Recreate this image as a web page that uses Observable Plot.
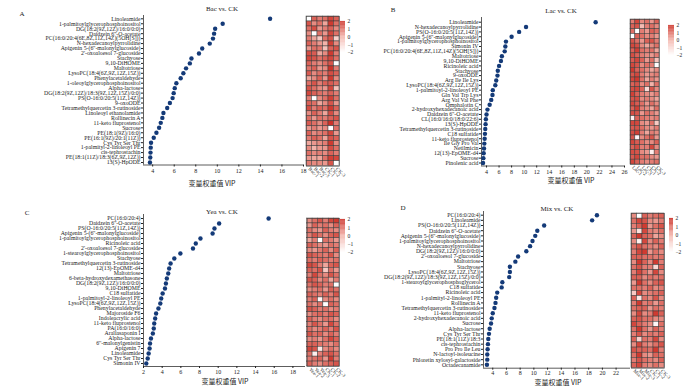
<!DOCTYPE html>
<html><head><meta charset="utf-8">
<script src="https://cdn.jsdelivr.net/npm/d3@7"></script>
<script src="https://cdn.jsdelivr.net/npm/@observablehq/plot@0.6"></script>
<style>
body{margin:0;background:#fff;}
#wrap{position:relative;width:700px;height:386px;overflow:hidden;background:#fff;font-family:"Liberation Serif",serif;}
.pl{position:absolute;}
.t{position:absolute;white-space:nowrap;line-height:1;transform:translate(-50%,-50%);color:#222;}
</style></head><body><div id="wrap"></div>
<script>
// ---------- data ----------
const namesA = ["Linoleamide","1-palmitoylglycerophosphoinositol","DG(18:2(9Z,12Z)/16:0/0:0)","Daidzein 6''-O-acetate","PC(16:0/20:4(6E,8Z,11Z,14Z)(5OH[S]))","N-hexadecanoylpyrrolidine","Apigenin 5-(6''-malonylglucoside)","2'-oxoaloesol 7-glucoside","Stachyose","9,10-DiHOME","Maltotriose","LysoPC(18:4(6Z,9Z,12Z,15Z))","Phenylacetaldehyde","1-oleoylglycerophosphoinositol","Alpha-lactose","DG(18:2(9Z,12Z)/18:3(9Z,12Z,15Z)/0:0)","PS(O-16:0/20:5(11Z,14Z))","9-oxoODE","Tetramethylquercetin 3-rutinoside","Linoleoyl ethanolamide","Rollinecin A","11-keto fluprostenol","Sucrose","PE(18:1(9Z)/16:0)","PE(16:1(9Z)/20:1(11Z))","Cys Tyr Ser Thr","1-palmityl-2-linoleoyl PE","cis-tephrostachin","PE(18:1(11Z)/18:3(6Z,9Z,12Z))","13(S)-HpODE"];
const vipA = [14.9,10.5,9.8,9.7,9.6,9.3,8.6,8.3,7.6,7.45,7.1,6.85,6.6,6.2,6.05,5.95,5.85,5.6,5.35,5.0,4.9,4.75,4.6,4.35,4.1,3.85,3.82,3.8,3.78,3.75];
const namesB = ["Linoleamide","N-hexadecanoylpyrrolidine","PS(O-16:0/20:5(11Z,14Z))","Apigenin 5-(6''-malonylglucoside)","1-palmitoylglycerophosphoinositol","Simonin IV","PC(16:0/20:4(6E,8Z,11Z,14Z)(5OH[S]))","Maltotriose","9,10-DiHOME","Ricinoleic acid","Stachyose","9-oxoODE","Arg Ile Ile Lys","LysoPC(18:4(6Z,9Z,12Z,15Z))","1-palmitoyl-2-linoleoyl PE","Gln Val Trp Lys","Arg Val Val Phe","Omphalotin C","2-hydroxyhexadecanoic acid","Daidzein 6''-O-acetate","CL(16:0/16:0/18:0/22:6)","13(S)-HpODE","Tetramethylquercetin 3-rutinoside","C18 sulfatide","11-keto fluprostenol","Ile Gly Pro Val","Netilmicin","12(13)-EpOME-d4","Sucrose","Pinolenic acid"];
const vipB = [21.4,10.3,9.2,8.0,7.1,7.0,6.9,6.45,6.3,6.0,5.8,5.75,5.55,5.4,5.0,4.95,4.75,4.5,4.15,4.0,3.9,3.85,3.8,3.75,3.7,3.65,3.6,3.55,3.5,3.45];
const namesC = ["PC(16:0/20:4)","Daidzein 6''-O-acetate","PS(O-16:0/20:5(11Z,14Z))","Apigenin 5-(6''-malonylglucoside)","1-palmitoylglycerophosphoinositol","Ricinoleic acid","2'-oxoaloesol 7-glucoside","1-stearoylglycerophosphoinositol","Stachyose","Tetramethylquercetin 3-rutinoside","12(13)-EpOME-d4","Maltotriose","6-beta-hydroxydexamethasone","DG(18:2(9Z,12Z)/16:0/0:0)","9,10-DiHOME","C18 sulfatide","1-palmitoyl-2-linoleoyl PE","LysoPC(18:4(6Z,9Z,12Z,15Z))","Phenylacetaldehyde","Majoroside F6","Indoleacrylic acid","11-keto fluprostenol","PA(16:0/16:0)","Araliasaponin I","Alpha-lactose","6''-malonylgenistin","Apigenin 7","Linoleamide","Cys Tyr Ser Thr","Simonin IV"];
const vipC = [15.4,10.1,9.6,9.4,8.1,7.6,7.3,5.95,5.3,4.9,4.75,4.65,4.5,4.4,4.3,4.05,3.9,3.8,3.6,3.35,3.25,3.15,3.1,3.0,2.8,2.7,2.65,2.55,2.45,2.3];
const namesD = ["PC(16:0/20:4)","Linoleamide","PS(O-16:0/20:5(11Z,14Z))","Daidzein 6''-O-acetate","Apigenin 5-(6''-malonylglucoside)","1-palmitoylglycerophosphoinositol","N-hexadecanoylpyrrolidine","DG(18:2(9Z,12Z)/16:0/0:0)","2'-oxoaloesol 7-glucoside","Maltotriose","Stachyose","LysoPC(18:4(6Z,9Z,12Z,15Z))","DG(18:2(9Z,12Z)/18:3(9Z,12Z,15Z)/0:0)","1-stearoylglycerophosphoglycerol","C18 sulfatide","Ricinoleic acid","1-palmityl-2-linoleoyl PE","Rollinecin A","Tetramethylquercetin 3-rutinoside","11-keto fluprostenol","2-hydroxyhexadecanoic acid","Sucrose","Alpha-lactose","Cys Tyr Ser Thr","PE(18:1(11Z)/18:3","cis-tephrostachin","Pro Pro Ile Leu","N-lactoyl-isoleucine","Phloretin xylosyl-galactoside","Octadecanamide"];
const vipD = [19.2,18.5,11.5,10.5,10.2,9.8,9.45,8.9,7.7,7.3,6.5,6.5,6.4,5.4,5.3,4.65,4.5,4.4,4.25,4.0,3.85,3.75,3.55,3.45,3.35,3.3,3.25,3.2,3.2,3.15];

const colsA = ["Bac-1","Bac-2","Bac-3","CK-1","CK-2","CK-3"];
const colsB = ["Lac-1","Lac-2","Lac-3","CK-1","CK-2","CK-3"];
const colsC = ["Yea-1","Yea-2","Yea-3","CK-1","CK-2","CK-3"];
const colsD = ["Mix-1","Mix-2","Mix-3","CK-1","CK-2","CK-3"];

const heatA = [[-2,1.2,0.8,1.0,1.6,1.2],[1.4,0.6,1.0,0.2,1.8,1.0],[1.0,1.5,0.4,0.8,1.2,0.6],[0.6,-2,1.0,0.4,1.6,1.0],[0.8,0.2,-0.6,1.0,1.4,-0.8],[1.2,0.8,0.4,0.0,1.7,0.6],[0.4,1.0,0.9,-0.4,1.2,1.4],[1.5,1.3,0.2,0.6,1.8,0.8],[1.6,1.4,1.0,1.2,1.6,1.0],[1.2,0.8,0.6,1.0,1.4,-2],[0.9,1.2,0.4,0.6,1.9,0.8],[1.3,0.6,1.0,0.8,1.5,1.2],[0.2,0.6,1.2,0.4,1.8,0.6],[1.0,1.4,0.8,1.2,1.3,1.0],[1.4,1.0,0.6,0.4,1.6,-0.4],[1.6,1.2,1.0,0.8,1.2,0.8],[0.8,-2,0.6,1.0,1.7,1.0],[1.2,1.0,0.2,0.6,1.4,0.4],[1.5,0.8,1.2,1.0,1.8,1.2],[0.6,1.2,0.8,0.2,1.5,0.6],[1.0,0.4,1.0,0.8,1.2,1.4],[1.3,1.0,0.6,1.2,1.9,0.8],[0.4,0.8,0.4,0.6,-2,1.0],[1.2,0.6,0.8,1.0,1.6,0.4],[0.8,1.2,1.0,0.2,1.4,1.2],[0.2,0.4,0.6,0.8,1.8,0.6],[0.6,0.0,0.4,0.4,1.5,1.0],[1.0,0.6,0.8,0.6,1.2,0.8],[0.4,0.2,0.2,1.0,1.7,1.6],[0.8,0.6,0.6,0.4,1.4,-2]];
const heatB = [[0.8,1.6,0.6,1.0,0.4,1.2],[1.2,1.4,-0.2,0.8,1.0,0.6],[1.0,-2,0.8,0.4,1.2,1.0],[-2,1.2,1.0,0.6,0.8,0.4],[1.4,1.0,0.4,1.2,1.4,0.8],[1.6,1.5,0.6,0.2,0.6,1.0],[1.2,1.7,1.0,0.8,1.0,0.2],[1.5,1.2,0.8,0.6,0.4,0.8],[1.3,1.6,1.2,0.4,1.0,-0.4],[1.6,1.4,0.6,1.0,0.8,-2],[1.8,1.2,1.0,0.6,0.2,0.6],[1.4,1.6,0.8,0.4,0.6,0.8],[1.6,1.8,1.0,0.2,0.8,0.4],[1.2,1.4,0.6,1.0,0.0,1.0],[1.5,1.6,1.2,-1.0,1.4,0.6],[1.7,1.2,0.8,0.6,0.4,0.8],[1.4,1.5,0.6,0.8,0.6,0.2],[1.6,1.3,1.0,0.4,1.0,0.6],[1.2,1.7,0.8,0.6,0.2,1.0],[1.5,1.4,0.4,1.0,0.8,0.4],[-1.6,1.2,1.0,0.8,0.6,0.8],[1.6,1.6,0.6,0.4,1.0,-0.6],[1.3,1.4,1.0,0.6,0.4,0.8],[1.5,1.7,0.8,0.2,0.8,0.6],[1.4,-1.8,0.6,1.0,1.4,0.4],[1.6,1.3,1.0,0.6,0.6,1.2],[1.2,1.5,0.8,0.8,1.6,0.6],[1.5,1.4,0.6,0.4,-1.6,0.8],[1.3,1.6,1.0,1.0,0.6,0.4],[1.6,1.2,0.8,0.6,0.8,1.0]];
const heatC = [[0.6,1.0,1.4,0.8,1.6,1.8],[0.4,1.2,0.8,1.0,0.6,1.2],[1.0,0.6,0.4,1.2,0.8,0.6],[0.8,1.4,1.0,0.6,1.2,1.4],[0.2,0.8,-2,1.0,0.8,0.4],[1.2,1.0,0.6,0.4,1.0,0.8],[0.6,0.4,0.8,1.2,0.6,1.2],[1.4,1.2,1.0,0.8,1.4,0.6],[1.0,0.8,1.2,1.0,0.8,1.0],[1.6,1.4,0.8,0.2,1.2,1.4],[1.2,1.0,1.4,-0.6,1.0,0.4],[0.8,1.6,1.0,0.6,1.4,1.0],[1.4,1.2,0.6,1.0,0.2,0.8],[1.0,1.4,1.2,0.8,1.0,-2],[0.6,0.8,1.0,0.4,1.2,1.0],[1.2,1.0,0.8,1.2,0.8,1.4],[0.8,1.2,-1.8,0.6,1.0,0.6],[1.0,0.6,1.0,-2,1.2,1.0],[1.4,1.2,0.8,1.0,0.6,0.8],[0.6,1.0,1.2,0.8,1.4,1.2],[1.2,0.8,0.6,1.0,1.0,0.6],[0.8,1.4,1.0,0.4,1.6,1.0],[1.0,0.6,0.8,1.2,0.8,1.4],[1.4,1.0,1.2,0.6,1.2,0.8],[0.6,0.8,0.4,1.0,1.6,1.2],[1.2,1.2,1.0,0.8,0.6,1.0],[1.6,1.4,-1.4,0.6,1.0,0.6],[1.0,-1.6,0.8,1.2,1.4,1.0],[0.8,1.0,1.2,0.4,1.8,0.8],[1.2,0.8,0.6,1.0,1.2,1.4]];
const heatD = [[0.6,-2,1.2,0.8,1.0,1.2],[1.0,1.6,1.4,0.6,0.4,0.8],[0.8,1.2,1.8,0.4,1.0,1.4],[0.4,-1.2,1.6,0.8,0.6,1.0],[1.2,1.8,1.2,1.0,0.2,0.6],[0.6,-1.6,1.6,0.6,1.2,0.8],[1.0,1.4,1.0,0.8,0.6,1.2],[0.8,1.6,1.8,0.4,1.0,0.6],[1.2,1.2,1.0,1.0,0.8,1.0],[0.6,1.8,1.2,0.6,1.8,0.8],[1.0,1.4,0.8,0.8,-1.0,1.2],[0.8,1.6,1.0,0.4,1.6,0.6],[1.2,1.2,0.6,1.0,0.8,1.0],[0.4,1.8,1.0,0.6,1.2,1.4],[1.0,1.0,0.8,1.2,0.6,0.8],[-0.6,1.6,0.6,0.8,1.0,1.2],[1.2,-1.4,1.0,0.6,1.4,0.6],[0.8,1.8,0.8,1.0,0.4,1.0],[1.0,1.2,1.2,0.4,1.0,0.8],[0.6,1.6,0.6,0.8,1.8,1.2],[1.2,1.4,1.0,1.0,0.6,0.6],[1.6,1.2,0.8,0.6,-1.8,1.0],[1.0,1.8,1.0,0.4,1.2,0.8],[0.8,1.4,0.6,1.0,0.8,1.2],[1.2,-0.8,1.0,0.8,1.6,0.6],[0.6,1.6,0.8,0.6,1.0,1.4],[1.4,1.2,1.2,1.0,1.8,0.8],[1.0,1.8,0.6,0.4,1.2,1.0],[0.8,1.4,1.0,0.8,0.6,1.2],[1.2,1.6,0.8,0.6,1.0,0.6]];

const ticksA = [4,6,8,10,12,14,16,18];
const ticksB = [4,6,8,10,12,14,16,18,20,22,24,26];
const ticksC = [2,4,6,8,10,12,14,16,18];
const ticksD = [4,6,8,10,12,14,16,18,20,22];
const legendTicks = [-2,-1,0,1,2];
const titles = ["Bac vs. CK","Lac vs. CK","Yea vs. CK","Mix vs. CK"];
const panelLetters = ["A","B","C","D"];
const xTitle = "变量权重值  VIP";

// ---------- drawing ----------
const wrap = document.getElementById("wrap");
const FONT = "Liberation Serif";
const colorScale = {type:"linear", domain:[-2,0,2], range:["#ffffff","#f3b3aa","#cb2c22"]};
const baseStyle = {background:"transparent", overflow:"visible", fontFamily:FONT, color:"#222"};

function place(el, left, top){
  el.classList.add("pl");
  el.style.left = left + "px";
  el.style.top = top + "px";
  wrap.appendChild(el);
}
function addText(txt, cx, cy, size, font){
  const d = document.createElement("div");
  d.className = "t";
  d.textContent = txt;
  d.style.left = cx + "px";
  d.style.top = cy + "px";
  d.style.fontSize = size + "px";
  d.style.fontFamily = font || FONT;
  wrap.appendChild(d);
}

function dotPlot(names, vip, o){
  const data = names.map((n,i)=>({name:n, vip:vip[i]}));
  const svg = Plot.plot({
    width:o.w, height:o.h, marginLeft:o.ml, marginRight:o.mr, marginTop:o.mt, marginBottom:o.mb,
    style:baseStyle,
    x:{domain:o.xd},
    y:{type:"point", domain:names, range:o.yr, padding:0, round:false},
    marks:[
      Plot.ruleX([o.xd[0]], {stroke:"#333", strokeWidth:0.8}),
      Plot.ruleY([names[names.length-1]], {dy:o.dy, stroke:"#333", strokeWidth:0.8}),
      Plot.axisY({tickSize:2, tickPadding:1, fontSize:5.8, label:null}),
      Plot.axisX({ticks:o.ticks, tickSize:2, tickPadding:o.tp, fontSize:6, label:null}),
      Plot.dot(data, {x:"vip", y:"name", r:2.2, fill:"#143a78"})
    ]
  });
  place(svg, o.left, o.top);
}

function heatPlot(names, cols, vals, o){
  const data = [];
  names.forEach((n,i)=>cols.forEach((c,j)=>data.push({name:n, col:c, v:vals[i][j]})));
  const svg = Plot.plot({
    width:o.w, height:o.h, marginLeft:o.ml, marginRight:o.mr, marginTop:o.mt, marginBottom:o.mb,
    style:baseStyle,
    x:{type:"band", domain:cols, padding:0, round:false},
    y:{type:"band", domain:names, padding:0, round:false, axis:null},
    color:colorScale,
    marks:[
      Plot.cell(data, {x:"col", y:"name", fill:"v", stroke:"#3c3c3c", strokeWidth:0.5, inset:0}),
      Plot.frame({stroke:"#444", strokeWidth:0.6}),
      Plot.axisX({tickRotate:45, tickSize:0, tickPadding:2, fontSize:5, label:null})
    ]
  });
  place(svg, o.left, o.top);
}

function legendPlot(o){
  const stops = d3.range(-2, 2, 0.1);
  const svg = Plot.plot({
    width:o.w, height:o.h, marginLeft:o.ml, marginRight:o.mr, marginTop:o.mt, marginBottom:o.mb,
    style:baseStyle,
    x:{domain:[0,1], axis:null},
    y:{domain:[-2,2]},
    color:colorScale,
    marks:[
      Plot.rect(stops, {x1:0, x2:1, y1:d=>d, y2:d=>d+0.11, fill:d=>d+0.05}),
      Plot.axisY({anchor:"right", ticks:legendTicks, tickFormat:"d", tickSize:0, tickPadding:2, fontSize:5.5, label:null})
    ]
  });
  place(svg, o.left, o.top);
}

// Panel A
dotPlot(namesA, vipA, {left:0, top:0, w:310, h:185, ml:143, mr:7, mt:15, mb:20.5, yr:[18.3,162], dy:2.5, xd:[3.15,18], ticks:ticksA, tp:2});
heatPlot(namesA, colsA, heatA, {left:300, top:0, w:50, h:190, ml:6, mr:11, mt:16, mb:24.3});
legendPlot({left:335, top:15, w:25, h:45, ml:5, mr:15, mt:6, mb:8});
// Panel B
dotPlot(namesB, vipB, {left:340, top:0, w:290, h:185, ml:141, mr:6, mt:17, mb:19.5, yr:[21.7,162.5], dy:3, xd:[3.2,26], ticks:ticksB, tp:1.5});
heatPlot(namesB, colsB, heatB, {left:624, top:0, w:45, h:190, ml:6, mr:10, mt:19, mb:26});
legendPlot({left:663, top:19, w:30, h:42, ml:5, mr:19, mt:6, mb:6});
// Panel C
dotPlot(namesC, vipC, {left:0, top:190, w:312, h:196, ml:143, mr:7, mt:24, mb:20, yr:[28,173], dy:3, xd:[2,19.35], ticks:ticksC, tp:1.5});
heatPlot(namesC, colsC, heatC, {left:300, top:190, w:50, h:196, ml:6.7, mr:11, mt:28, mb:20});
legendPlot({left:335, top:213, w:25, h:45, ml:5, mr:15, mt:6, mb:6});
// Panel D
dotPlot(namesD, vipD, {left:340, top:190, w:296, h:196, ml:143, mr:6, mt:21, mb:18.3, yr:[24.7,174.3], dy:3.4, xd:[2.65,24.1], ticks:ticksD, tp:0.5});
heatPlot(namesD, colsD, heatD, {left:625, top:190, w:50, h:196, ml:6, mr:11, mt:23, mb:18.3});
legendPlot({left:664, top:212, w:30, h:46, ml:5, mr:21, mt:6, mb:6});

// texts
const titlePos = [[222,9],[561,11],[222,212],[557,209]];
titles.forEach((t,i)=>addText(t, titlePos[i][0], titlePos[i][1], 7));
const letterPos = [[22,14],[393,10],[27,213],[403,208]];
panelLetters.forEach((t,i)=>addText(t, letterPos[i][0], letterPos[i][1], 7));
const xtPos = [[212,183],[571,180],[225,381],[558,382]];
xtPos.forEach(p=>addText(xTitle, p[0], p[1], 7, "'Noto Sans CJK SC', 'Liberation Serif', sans-serif"));
</script></body></html>
